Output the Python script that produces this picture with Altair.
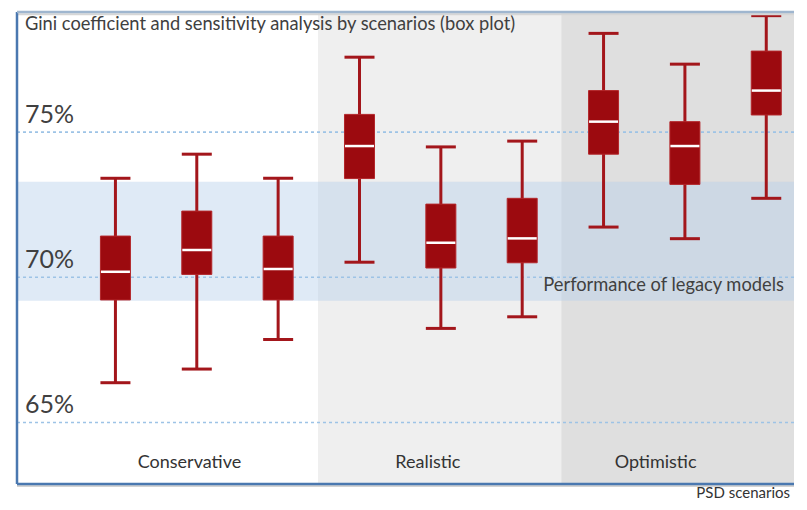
import altair as alt
import pandas as pd

# ---- data ----
scenarios = ["Conservative", "Realistic", "Optimistic"]
scenario_label_pos = [0.91, 3.84, 6.64]
box_pos = [0, 1, 2, 3, 4, 5, 6, 7, 8]
box_scenario = ["Conservative"] * 3 + ["Realistic"] * 3 + ["Optimistic"] * 3
whisker_low = [66.37, 66.84, 67.86, 70.52, 68.24, 68.64, 71.73, 71.33, 72.72]
q1 = [69.22, 70.10, 69.22, 73.40, 70.32, 70.50, 74.24, 73.20, 75.59]
median = [70.19, 70.94, 70.29, 74.52, 71.19, 71.34, 75.36, 74.52, 76.43]
q3 = [71.42, 72.28, 71.42, 75.61, 72.52, 72.72, 76.43, 75.36, 77.79]
whisker_high = [73.41, 74.24, 73.41, 77.58, 74.49, 74.69, 78.40, 77.34, 79.01]

y_ticks = [65, 70, 75]
y_tick_labels = ["65%", "70%", "75%"]

legacy_low = 69.19
legacy_high = 73.29
legacy_label = "Performance of legacy models"

title_text = "Gini coefficient and sensitivity analysis by scenarios (box plot)"
x_title_text = "PSD scenarios"

X_MIN, X_MAX = -1.21, 8.341
Y_MIN, Y_MAX = 62.882, 79.136

region_start = [X_MIN, 2.49, 5.48]
region_end = [2.49, 5.48, X_MAX]
region_color = ["#ffffff", "#efefef", "#dfdfdf"]

FONT = "Lato"
BOX_COLOR = "#9c0a0f"
TEXT_COLOR = "#404040"

xs = alt.Scale(domain=[X_MIN, X_MAX], nice=False, zero=False)
ys = alt.Scale(domain=[Y_MIN, Y_MAX], nice=False, zero=False)


def X(f):
    return alt.X(f, type="quantitative", scale=xs, axis=None)


def Y(f):
    return alt.Y(f, type="quantitative", scale=ys, axis=None)


boxes = pd.DataFrame({
    "pos": box_pos, "scenario": box_scenario, "lo": whisker_low, "q1": q1,
    "med": median, "q3": q3, "hi": whisker_high,
})
regions = pd.DataFrame({"x0": region_start, "x1": region_end, "c": region_color,
                        "y0": [Y_MIN] * 3, "y1": [Y_MAX] * 3})
grid = pd.DataFrame({"v": y_ticks, "lab": y_tick_labels, "x0": [X_MIN] * 3, "x1": [X_MAX] * 3,
                     "xl": [-1.113] * 3})
band = pd.DataFrame({"x0": [X_MIN], "x1": [X_MAX], "y0": [legacy_low], "y1": [legacy_high]})
scen = pd.DataFrame({"x": scenario_label_pos, "t": scenarios, "y": [63.61] * 3})
annot = pd.DataFrame({
    "x": [-1.113, 5.26],
    "y": [78.69, 69.70],
    "t": [title_text, legacy_label],
})
xtitle = pd.DataFrame({"x": [7.14], "y": [62.57], "t": [x_title_text]})

shadow = pd.DataFrame({
    "x0": [X_MIN, X_MIN],
    "x1": [X_MAX, X_MAX],
    "y0": [Y_MIN - 0.07, Y_MAX - 0.08],
    "c": ["#d3d3d3", "#d6d6d6"],
})
frame = pd.DataFrame({
    "x0": [X_MIN, X_MIN, X_MIN],
    "x1": [X_MIN, X_MAX, X_MAX],
    "y0": [Y_MIN, Y_MAX, Y_MIN],
    "y1": [Y_MAX, Y_MAX, Y_MIN],
    "c": ["#4a78b0", "#9fb6cf", "#4a78b0"],
})

bg = alt.Chart(regions).mark_rect().encode(
    x=X("x0"), x2="x1", y=Y("y0"), y2="y1", color=alt.Color("c:N", scale=None))

band_l = alt.Chart(band).mark_rect(color="#b8d0ea", opacity=0.45).encode(
    x=X("x0"), x2="x1", y=Y("y0"), y2="y1")

grid_l = alt.Chart(grid).mark_rule(color="#9dc3e6", strokeDash=[3, 3], strokeWidth=1.6).encode(
    x=X("x0"), x2="x1", y=Y("v"))

grid_lab = alt.Chart(grid).mark_text(
    align="left", baseline="alphabetic", dy=-9, font=FONT, fontSize=25, color=TEXT_COLOR
).encode(x=X("xl"), y=Y("v"), text="lab:N")

whisk = alt.Chart(boxes).mark_rule(color="#a3161b", strokeWidth=3).encode(
    x=X("pos"), y=Y("lo"), y2="hi")
cap_lo = alt.Chart(boxes).mark_tick(orient="horizontal", size=30, thickness=3, color="#a3161b", opacity=1).encode(
    x=X("pos"), y=Y("lo"))
cap_hi = alt.Chart(boxes).mark_tick(orient="horizontal", size=30, thickness=3, color="#a3161b", opacity=1).encode(
    x=X("pos"), y=Y("hi"))
box = alt.Chart(boxes).mark_bar(size=30, color=BOX_COLOR, stroke="#b3262a", strokeWidth=1).encode(
    x=X("pos"), y=Y("q1"), y2="q3")
med = alt.Chart(boxes).mark_tick(orient="horizontal", size=29, thickness=2.5, color="#ffffff", opacity=1).encode(
    x=X("pos"), y=Y("med"))

scen_l = alt.Chart(scen).mark_text(font=FONT, fontSize=18, color="#333333").encode(
    x=X("x"), y=Y("y"), text="t:N")

annot_l = alt.Chart(annot).mark_text(align="left", font=FONT, fontSize=18.3, color=TEXT_COLOR).encode(
    x=X("x"), y=Y("y"), text="t:N")

xtitle_l = alt.Chart(xtitle).mark_text(align="left", font=FONT, fontSize=15, color="#333333").encode(
    x=X("x"), y=Y("y"), text="t:N")

shadow_l = alt.Chart(shadow).mark_rule(strokeWidth=2).encode(
    x=X("x0"), x2="x1", y=Y("y0"), color=alt.Color("c:N", scale=None))

frame_l = alt.Chart(frame).mark_rule(strokeWidth=2.5).encode(
    x=X("x0"), x2="x1", y=Y("y0"), y2="y1", color=alt.Color("c:N", scale=None))

chart = alt.layer(
    bg, band_l, grid_l, grid_lab, whisk, cap_lo, cap_hi, box, med, scen_l, annot_l, xtitle_l,
    shadow_l, frame_l
).properties(
    width=787, height=472,
    padding={"left": 4, "top": 4, "right": 0, "bottom": 18},
    autosize=alt.AutoSizeParams(type="none"),
    background="#ffffff",
).configure_view(stroke=None)

chart.save("out.html", embed_options={"renderer": "svg", "actions": False})
